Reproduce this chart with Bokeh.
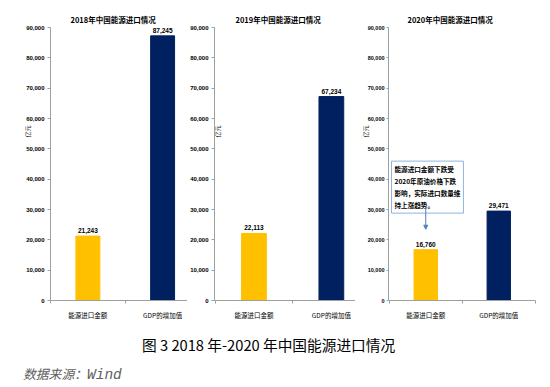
import math
from bokeh.plotting import figure
from bokeh.models import (Range1d, FixedTicker, NumeralTickFormatter, Label, Arrow,
                          NormalHead, Div, ColumnDataSource)
from bokeh.layouts import row, column
from bokeh.embed import file_html
from bokeh.resources import INLINE
from bokeh.core.properties import value

# ---------------- data ----------------
titles = ["2018年中国能源进口情况", "2019年中国能源进口情况", "2020年中国能源进口情况"]
categories = ["能源进口金额", "GDP的增加值"]
energy_import = [21243, 22113, 16760]      # 亿元
gdp_increase = [87245, 67234, 29471]       # 亿元
y_ticks = [0, 10000, 20000, 30000, 40000, 50000, 60000, 70000, 80000, 90000]
unit_label = "亿元"
note_text = "能源进口金额下跌受\n2020年原油价格下跌\n影响，实际进口数量维\n持上涨趋势。"
caption = "图 3 2018 年-2020 年中国能源进口情况"
source_cn = "数据来源："
source_en = "Wind"

# ---------------- styles ----------------
bar_colors = ["#FFC000", "#002060"]
axis_color = "#A0A0A0"
NUM_FONT = "Liberation Sans"
CJK_FONT = "Noto Sans CJK SC"

specs = [
    dict(w=187, bl=50, br=0, bt=27, bb=21, x0=-0.5, x1=1.333, toff=20, fs="6px", tk=3, sd=3,
         unit="side", ux=12.8),
    dict(w=168, bl=25, br=0, bt=27, bb=21, x0=-0.51, x1=1.312, toff=21, fs="6px", tk=3, sd=3,
         unit="frame", ux=3),
    dict(w=187, bl=32, br=7, bt=26, bb=20, x0=-0.51, x1=1.503, toff=19, fs="5.5px", tk=2, sd=2,
         unit="side", ux=10),
]

xs = list(range(len(categories)))


def make_panel(i, s):
    p = figure(width=s["w"], height=322,
               x_range=Range1d(s["x0"], s["x1"]), y_range=Range1d(0, y_ticks[-1]),
               output_backend="svg", toolbar_location=None,
               min_border_left=s["bl"], min_border_right=s["br"],
               min_border_top=s["bt"], min_border_bottom=s["bb"],
               outline_line_color=None, background_fill_color="white",
               border_fill_color="white")
    p.title.text = titles[i]
    p.title.align = "left"
    p.title.offset = s["toff"]
    p.title.standoff = 6
    p.title.text_font = CJK_FONT
    p.title.text_font_size = "7.5px"
    p.title.text_font_style = "bold"
    p.title.text_color = "#000000"

    vals = [energy_import[i], gdp_increase[i]]
    src = ColumnDataSource(dict(x=xs, top=vals, color=bar_colors,
                                lab=[f"{v:,}" for v in vals]))
    p.vbar(x="x", top="top", width=0.32, color="color", source=src)
    p.text(x="x", y="top", text="lab", source=src, text_align="center",
           text_baseline="bottom", y_offset=-3, text_font=value(NUM_FONT),
           text_font_size="6.5px", text_font_style="bold", text_color="#000000")

    p.xgrid.visible = False
    p.ygrid.visible = False

    ya = p.yaxis[0]
    ya.ticker = FixedTicker(ticks=y_ticks)
    ya.formatter = NumeralTickFormatter(format="0,0")
    ya.axis_line_color = axis_color
    ya.major_tick_line_color = axis_color
    ya.major_tick_out = s["tk"]
    ya.major_tick_in = 0
    ya.minor_tick_line_color = None
    ya.major_label_standoff = s["sd"]
    ya.major_label_text_font = NUM_FONT
    ya.major_label_text_font_size = s["fs"]
    ya.major_label_text_font_style = "bold"
    ya.major_label_text_color = "#000000"

    xa = p.xaxis[0]
    xa.ticker = FixedTicker(ticks=xs, minor_ticks=[-0.5, 0.5, 1.5])
    xa.major_label_overrides = {x: c for x, c in zip(xs, categories)}
    xa.axis_line_color = axis_color
    xa.major_tick_line_color = None
    xa.major_tick_out = 0
    xa.major_tick_in = 0
    xa.minor_tick_line_color = axis_color
    xa.minor_tick_out = 3
    xa.minor_tick_in = 0
    xa.major_label_standoff = 6
    xa.major_label_text_font = CJK_FONT
    xa.major_label_text_font_size = "6.5px"
    xa.major_label_text_color = "#000000"

    unit = Label(x=s["ux"], x_units="screen", y=55700, text=unit_label,
                 angle=math.pi / 2, text_align="center", text_baseline="middle",
                 text_font=CJK_FONT, text_font_size="6px", text_color="#000000")
    if s["unit"] == "side":
        p.add_layout(unit, "left")
    else:
        p.add_layout(unit)
    return p


panels = [make_panel(i, s) for i, s in enumerate(specs)]

# annotation in the 2020 panel
p3 = panels[2]
p3.add_layout(Label(x=-0.469, y=45950, text=note_text, text_align="left",
                    text_baseline="top", text_font=CJK_FONT, text_font_size="6.6px",
                    text_font_style="bold", text_color="#000000",
                    text_line_height=1.2, padding=3,
                    border_line_color="#8EB4E3", border_line_width=1,
                    background_fill_color="white"))
p3.add_layout(Arrow(x_start=0, y_start=30800, x_end=0, y_end=23500,
                    line_color="#4F81BD", line_width=1,
                    end=NormalHead(size=4, fill_color="#4F81BD", line_color="#4F81BD")))

cap = Div(text=(
    '<div style="position:relative;width:542px;height:57px;">'
    f'<div style="position:absolute;left:142px;top:13px;font-family:\'{CJK_FONT}\';'
    f'font-size:14.7px;line-height:20px;color:#000;white-space:nowrap;">{caption}</div>'
    '<div style="position:absolute;left:23px;top:43px;font-style:italic;'
    'line-height:17px;color:#606060;white-space:nowrap;">'
    f'<span style="font-family:\'{CJK_FONT}\';font-size:12.8px;">{source_cn}</span>'
    f'<span style="font-family:\'Liberation Mono\';font-size:14.5px;">{source_en}</span></div>'
    '</div>'), width=542, height=57, margin=(0, 0, 0, 0))

layout = column(row(*panels), cap)
open("out.html", "w").write(file_html(layout, INLINE))
